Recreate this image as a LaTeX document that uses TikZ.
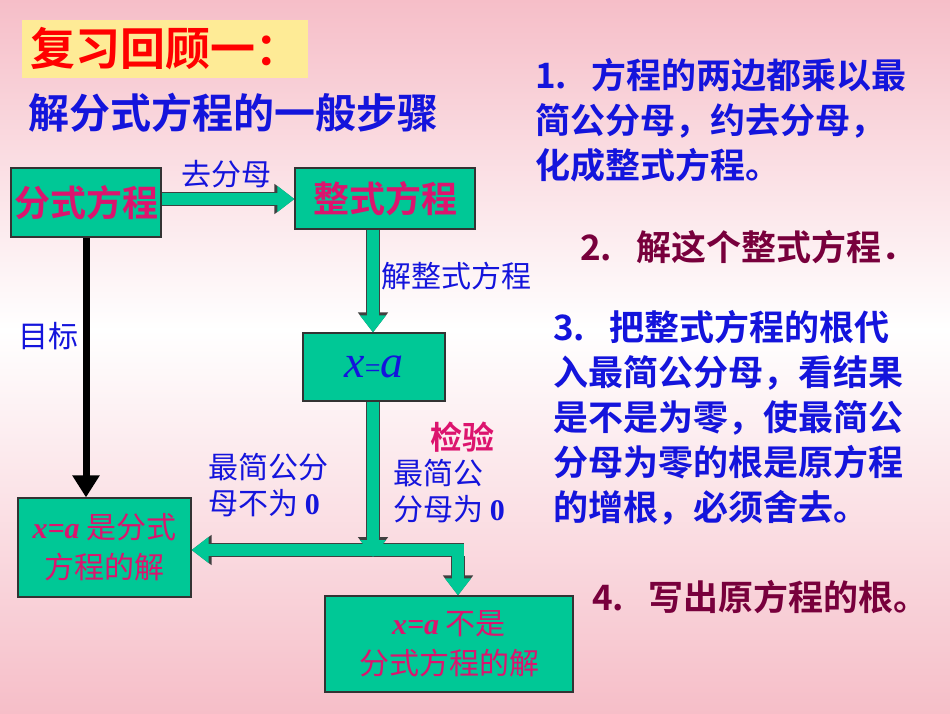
\documentclass[tikz,border=0pt]{standalone}
\usepackage{fontspec}
\setmainfont{Liberation Serif}
\newfontfamily\cjk{Noto Sans CJK SC}
\newfontfamily\cjkb{Noto Sans CJK SC Bold}
\usetikzlibrary{arrows.meta}
\definecolor{tealbox}{RGB}{0,200,150}
\definecolor{mag}{RGB}{220,20,110}
\definecolor{blu}{RGB}{20,20,220}
\definecolor{maro}{RGB}{120,0,60}
\definecolor{pinkbg}{RGB}{246,190,200}
\begin{document}
\begin{tikzpicture}[x=1pt,y=-1pt,
  box/.style={draw=black!80,line width=1.2pt,fill=tealbox,inner sep=0pt,align=center},
  outl/.style={line width=14pt,draw=black!75,-{Triangle[width=29pt,length=20pt]}},
  inn/.style={line width=12pt,draw=tealbox,-{Triangle[width=25pt,length=17pt,fill=tealbox]}},
  lab/.style={text=blu,font=\cjk\fontsize{30}{36}\selectfont,inner sep=0pt,align=left},
  side/.style={text=blu,font=\cjkb\fontsize{35}{45}\selectfont,inner sep=0pt,align=left,anchor=north west}]
\shade[top color=pinkbg,bottom color=white] (0,0) rectangle (950,330);
\shade[top color=white,bottom color=pinkbg] (0,330) rectangle (950,713);
\useasboundingbox (0,0) rectangle (950,713);
\node[fill=yellow!70!orange!40,minimum width=286pt,minimum height=58pt,anchor=north west,inner sep=0pt] (title) at (22,20) {};
\node[text=red,font=\cjkb\fontsize{45}{48}\selectfont,inner sep=0pt,anchor=west] (tt) at (30,49) {复习回顾一：};
\node[text=blu,font=\cjkb\fontsize{41}{44}\selectfont,anchor=west,inner sep=0pt] (sub) at (28,113) {解分式方程的一般步骤};
\node[box,minimum width=150pt,minimum height=69pt,text=mag,font=\cjkb\fontsize{36}{40}\selectfont] (a) at (86,202.5) {分式方程};
\node[box,minimum width=180pt,minimum height=61pt,text=mag,font=\cjkb\fontsize{36}{40}\selectfont] (b) at (385,198.5) {整式方程};
\node[box,minimum width=142pt,minimum height=68pt,text=blu,font=\fontsize{46}{48}\selectfont] (c) at (374,367) {\textit{x}{\fontsize{28}{28}\selectfont=}\textit{a}};
\node[box,minimum width=173pt,minimum height=99pt,text=mag,font=\cjk\fontsize{30}{40}\selectfont] (d) at (104.5,547.5) {{\rmfamily\bfseries\itshape x=a} 是分式\\方程的解};
\node[box,minimum width=248pt,minimum height=96pt,text=mag,font=\cjk\fontsize{30}{40}\selectfont] (e) at (449,644) {{\rmfamily\bfseries\itshape x=a} 不是\\分式方程的解};
\coordinate (j) at (373,550);
\coordinate (j2) at (458,550);
\coordinate (ab) at (228,199);
\draw[line width=7pt,-{Triangle[width=26pt,length=22pt]}] (a.south) -- (d.north -| a.south);
\foreach \s in {outl,inn}{
  \draw[\s] (a.east |- ab) -- (b.west |- ab);
  \draw[\s] (b.south -| j) -- (c.north -| j);
  \draw[\s] (c.south -| j) -- ([yshift=-7pt]j);
  \draw[\s] ([xshift=6pt]j2) -- (d.east |- j);
  \draw[\s] ([yshift=-6pt]j2) -- (e.north -| j2);
}
\node[lab,anchor=south] (l1) at (226,188) {去分母};
\node[lab,anchor=west] (l2) at (381,276) {解整式方程};
\node[lab,anchor=west] (l3) at (18,336) {目标};
\node[text=mag,font=\cjkb\fontsize{32}{36}\selectfont,inner sep=0pt] (l4) at (462,437) {检验};
\node[lab,anchor=north west] (l5) at (208,453) {最简公分\\母不为 {\rmfamily\bfseries 0}};
\node[lab,anchor=north west] (l6) at (393,459) {最简公\\分母为 {\rmfamily\bfseries 0}};
\node[side] (s1) at (535,58) {1.\ \ \ 方程的两边都乘以最\\简公分母，约去分母，\\化成整式方程。};
\node[side,text=maro] (s2) at (580,230) {2.\ \ \ 解这个整式方程．};
\node[side,align=left] (s3) at (553,310) {3.\ \ \ 把整式方程的根代\\入最简公分母，看结果\\是不是为零，使最简公\\分母为零的根是原方程\\的增根，必须舍去。};
\node[side,text=maro] (s4) at (592,580) {4.\ \ \ 写出原方程的根。};
\end{tikzpicture}
\end{document}
